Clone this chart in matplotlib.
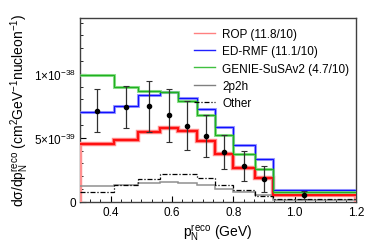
import matplotlib
matplotlib.use('Agg')
import matplotlib.pyplot as plt
from matplotlib.lines import Line2D
from matplotlib.ticker import MultipleLocator, FixedLocator
import numpy as np

plt.rcParams['font.family'] = ['Liberation Sans', 'DejaVu Sans']
plt.rcParams['mathtext.fontset'] = 'custom'
plt.rcParams['mathtext.rm'] = 'Liberation Sans'
plt.rcParams['mathtext.it'] = 'Liberation Sans'

SCALE = 1e-39

# bin edges in p_N^reco (GeV)
edges = [0.30, 0.41, 0.49, 0.56, 0.62, 0.68, 0.74, 0.80, 0.87, 0.93, 1.20]

# model predictions, units of 1e-39 cm2/GeV/nucleon
rop = [4.50, 4.84, 5.42, 5.76, 5.50, 4.76, 3.70, 2.64, 1.85, 0.50]
edrmf = [6.98, 7.45, 8.34, 8.60, 8.10, 7.27, 5.86, 4.45, 3.36, 0.94]
genie = [9.90, 9.00, 8.68, 8.55, 7.88, 6.75, 5.22, 3.73, 2.60, 0.78]
twop2h = [1.25, 1.32, 1.50, 1.57, 1.46, 1.28, 1.02, 0.78, 0.52, 0.13]
other = [0.78, 1.30, 1.80, 2.18, 2.15, 1.84, 1.31, 0.90, 0.47, 0.21]

# data points
data_x = [0.355, 0.45, 0.525, 0.59, 0.65, 0.71, 0.77, 0.835, 0.90, 1.03]
data_y = [7.12, 7.42, 7.45, 6.75, 5.94, 5.12, 3.88, 2.80, 1.80, 0.52]
data_err = [1.70, 1.65, 2.00, 2.08, 1.90, 1.65, 1.35, 1.20, 1.00, 0.30]

labels = ['ROP (11.8/10)', 'ED-RMF (11.1/10)', 'GENIE-SuSAv2 (4.7/10)', '2p2h', 'Other']

fig = plt.figure(figsize=(3.9, 2.51), dpi=100)
ax = fig.add_axes([0.205, 0.192, 0.708, 0.733])

e = np.array(edges)
s = lambda v: np.array(v) * SCALE

# light bands under the dark lines
ax.stairs(s(rop), e, baseline=0, color='#ff9090', lw=3.2, zorder=3)
ax.stairs(s(rop), e, baseline=None, color='#ff1010', lw=1.6, zorder=4)
ax.stairs(s(edrmf), e, baseline=None, color='#a0a0ff', lw=2.2, zorder=3)
ax.stairs(s(edrmf), e, baseline=None, color='#1010ff', lw=0.9, zorder=4)
ax.stairs(s(genie), e, baseline=None, color='#90e090', lw=2.2, zorder=3)
ax.stairs(s(genie), e, baseline=None, color='#20b020', lw=0.9, zorder=4)
ax.stairs(s(twop2h), e, baseline=None, color='#909090', lw=1.1, zorder=3)
ax.stairs(s(other), e, baseline=None, color='black', lw=0.9,
          linestyle=(0, (4, 1.5, 1, 1.5)), zorder=3)

ax.errorbar(data_x, s(data_y), yerr=s(data_err), fmt='o', color='black',
            ecolor='#303030', ms=3, elinewidth=0.9, capsize=2, capthick=0.8, zorder=5)

ax.set_xlim(0.3, 1.2)
ax.set_ylim(0, 1.437e-38)

ax.xaxis.set_major_locator(MultipleLocator(0.2))
ax.xaxis.set_minor_locator(MultipleLocator(0.2 / 6))
ax.yaxis.set_major_locator(FixedLocator([0, 5e-39, 1e-38]))
ax.yaxis.set_minor_locator(MultipleLocator(1e-39))
ax.set_yticklabels(['0', r'5$\times$10$^{-39}$', r'1$\times$10$^{-38}$'])
ax.set_xticklabels(['%.1f' % t for t in ax.get_xticks()])

ax.tick_params(which='both', direction='in', top=False, right=False, labelsize=8.5, pad=3)
ax.tick_params(which='major', length=4, width=0.8)
ax.tick_params(which='minor', length=2, width=0.6)
for sp in ax.spines.values():
    sp.set_color('#404040')
    sp.set_linewidth(1.0)

ax.set_xlabel(r'p$_N^{\rm reco}$ (GeV)', fontsize=10, labelpad=3)
ax.set_ylabel(r'd$\sigma$/dp$_N^{\rm reco}$ (cm$^2$GeV$^{-1}$nucleon$^{-1}$)', fontsize=10, labelpad=2)

handles = [Line2D([], [], color='#ff8080', lw=1),
           Line2D([], [], color='#2020ff', lw=1),
           Line2D([], [], color='#40c040', lw=1),
           Line2D([], [], color='#808080', lw=1),
           Line2D([], [], color='black', lw=0.9, linestyle=(0, (4, 1.5, 1, 1.5)))]
ax.legend(handles, labels, loc='upper right', frameon=False, fontsize=8.5,
          handlelength=1.8, handletextpad=0.6, labelspacing=0.45,
          borderaxespad=0.3, bbox_to_anchor=(1.005, 0.99))

fig.savefig('out.png', dpi=100)
